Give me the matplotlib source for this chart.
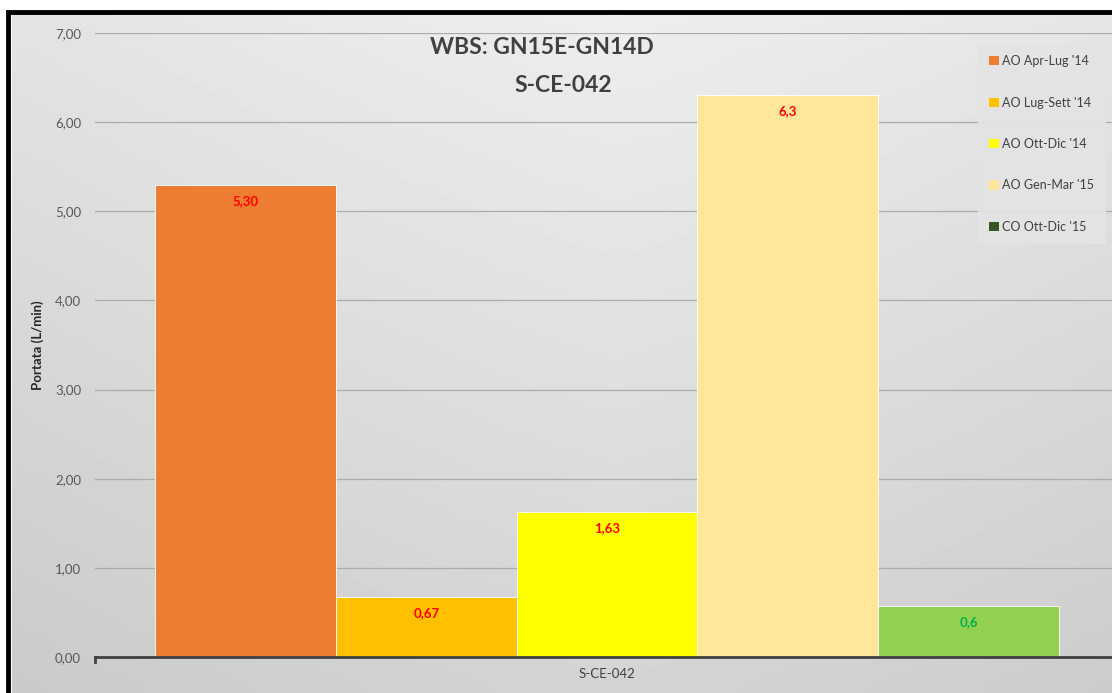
import matplotlib.pyplot as plt
import numpy as np
from matplotlib.patches import Rectangle, Patch

categories = ["S-CE-042"]
series = ["AO Apr-Lug '14", "AO Lug-Sett '14", "AO Ott-Dic '14", "AO Gen-Mar '15", "CO Ott-Dic '15"]
values = [5.30, 0.67, 1.63, 6.30, 0.57]
value_labels = ["5,30", "0,67", "1,63", "6,3", "0,6"]
bar_colors = ["#ED7D31", "#FFC000", "#FFFF00", "#FFE699", "#92D050"]
legend_colors = ["#ED7D31", "#FFC000", "#FFFF00", "#FFE699", "#375623"]
label_colors = ["#FF0000", "#FF0000", "#FF0000", "#FF0000", "#00B050"]
yticks = [0, 1, 2, 3, 4, 5, 6, 7]

plt.rcParams["font.family"] = ["Lato", "DejaVu Sans"]

fig = plt.figure(figsize=(11.12, 6.93), dpi=100)
fig.patch.set_facecolor("white")

# gradient background of the chart area
bg = fig.add_axes([12 / 1112, 0, 1 - 12 / 1112, 1 - 14 / 693])
yy, xx = np.mgrid[0:1:200j, 0:1:300j]
grad = 0.93 - 0.10 * yy - 0.08 * np.abs(xx - 0.55) ** 1.2
bg.imshow(grad, cmap="gray", vmin=0, vmax=1, aspect="auto", extent=[0, 1, 0, 1], origin="upper")
bg.set_axis_off()

# black frame (left and top visible)
fig.patches.append(Rectangle((8 / 1112, -0.05), 1.05, 1 - 12 / 693 + 0.05,
                             transform=fig.transFigure, fill=False,
                             edgecolor="black", linewidth=3.5))

ax = fig.add_axes([95 / 1112, 1 - 657 / 693, (1119 - 95) / 1112, (657 - 33) / 693])
ax.patch.set_alpha(0)

width = 0.1765
n = len(values)
offsets = (np.arange(n) - (n - 1) / 2) * width
x0 = 0
for i in range(n):
    ax.bar(x0 + offsets[i], values[i], width=width, color=bar_colors[i],
           edgecolor="white", linewidth=0.6, label=series[i], zorder=3)
    ax.text(x0 + offsets[i], values[i] - 0.18, value_labels[i], ha="center", va="center",
            color=label_colors[i], fontsize=9.5, fontweight="bold", zorder=4)

ax.set_xlim(-0.5, 0.5)
ax.set_ylim(0, 7)
ax.set_yticks(yticks)
ax.set_yticklabels(["%d,00" % t for t in yticks], color="#595959", fontsize=9.5)
ax.set_xticks([0])
ax.set_xticklabels(categories, color="#404040", fontsize=9.5)
ax.tick_params(axis="y", length=0, pad=10)
ax.tick_params(axis="x", length=0, pad=8)
ax.grid(axis="y", color="#ababab", linewidth=0.9, zorder=0)
for s in ["left", "right", "top"]:
    ax.spines[s].set_visible(False)
ax.spines["bottom"].set_color("#404040")
ax.spines["bottom"].set_linewidth(2)
ax.spines["bottom"].set_zorder(5)
ax.plot([-0.5, -0.5], [0, -0.06], color="#404040", lw=2, clip_on=False, zorder=5)

ax.set_ylabel("Portata (L/min)", fontsize=9.5, fontweight="bold", color="#262626", labelpad=8)

fig.text(542 / 1112, 1 - 48 / 693, "WBS: GN15E-GN14D", ha="center", va="center",
         fontsize=16.5, fontweight="bold", color="#404040")
fig.text(563 / 1112, 1 - 85 / 693, "S-CE-042", ha="center", va="center",
         fontsize=16.5, fontweight="bold", color="#404040")

handles = [Patch(facecolor=c, edgecolor="none") for c in legend_colors]
leg = fig.legend(handles, series, loc="upper left", bbox_to_anchor=(978 / 1112, 1 - 44 / 693),
                 fontsize=9, frameon=True, handlelength=0.75, handleheight=0.75, handletextpad=0.3,
                 labelspacing=2.35, borderpad=0.9, borderaxespad=0, labelcolor="#404040")
leg.get_frame().set_facecolor("#e4e4e4")
leg.get_frame().set_edgecolor("none")
leg.get_frame().set_alpha(0.9)
leg.get_frame().set_boxstyle("square", pad=0)

fig.savefig("out.png", dpi=100)
